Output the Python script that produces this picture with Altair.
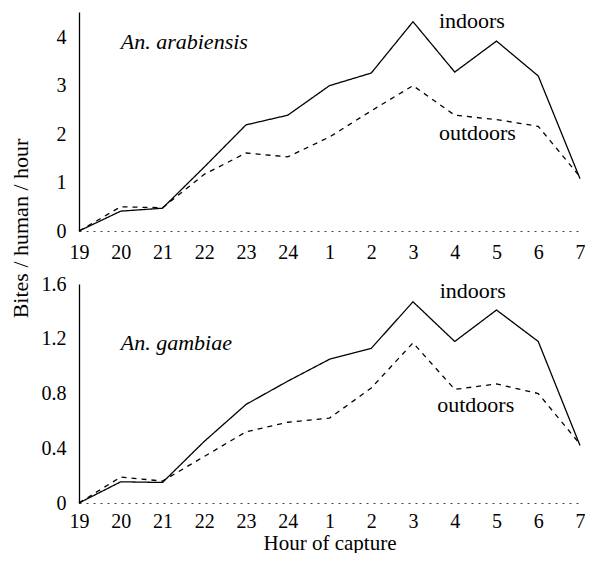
import altair as alt
import pandas as pd

hours = ["19", "20", "21", "22", "23", "24", "1", "2", "3", "4", "5", "6", "7"]

arab_indoors = [0, 0.41, 0.47, 1.32, 2.19, 2.39, 3.00, 3.26, 4.32, 3.28, 3.92, 3.20, 1.08]
arab_outdoors = [0, 0.50, 0.48, 1.17, 1.61, 1.53, 1.94, 2.48, 3.00, 2.39, 2.30, 2.16, 1.12]

gamb_indoors = [0, 0.155, 0.15, 0.45, 0.72, 0.89, 1.05, 1.13, 1.47, 1.18, 1.41, 1.18, 0.42]
gamb_outdoors = [0, 0.19, 0.16, 0.34, 0.52, 0.59, 0.62, 0.84, 1.17, 0.83, 0.87, 0.80, 0.43]

arab_ticks = [0, 1, 2, 3, 4]
gamb_ticks = [0, 0.4, 0.8, 1.2, 1.6]

# annotations: (text, x index, y value, italic)
arab_notes = [("An. arabiensis", 1.0, 3.75, True), ("indoors", 8.62, 4.19, False), ("outdoors", 8.62, 1.88, False)]
gamb_notes = [("An. gambiae", 1.0, 1.12, True), ("indoors", 8.64, 1.50, False), ("outdoors", 8.58, 0.665, False)]

FONT = "Liberation Serif, Times New Roman, DejaVu Serif, serif"
label_expr = "[" + ",".join("'%s'" % h for h in hours) + "][datum.value]"


def panel(ind, outd, ymax, yvals, notes, xtitle, ytitle, lab_pad):
    n = len(hours)
    df = pd.DataFrame({
        "idx": list(range(n)) * 2,
        "value": ind + outd,
        "loc": ["indoors"] * n + ["outdoors"] * n,
    })
    xaxis_kw = dict(values=list(range(n)), labelExpr=label_expr, grid=False, tickSize=0,
                    labelPadding=lab_pad, labelFlush=False, labelOverlap=False,
                    domainDash=[2, 5], domainColor="#444444", titlePadding=1)
    yaxis_kw = dict(values=yvals, format=".1~f", grid=False, tickSize=0, labelPadding=13,
                    labelFlush=False, labelOverlap=False, domainColor="black", domainWidth=1.3)
    xaxis_kw["title"] = xtitle if xtitle else None
    if ytitle:
        yaxis_kw.update(title=ytitle, titleX=-52, titleY=216, titleAlign="center",
                        titleBaseline="alphabetic", titleAngle=270, titleFontSize=22)
    else:
        yaxis_kw["title"] = None

    x = alt.X("idx:Q", scale=alt.Scale(domain=[0, n - 1], nice=False, zero=False), axis=alt.Axis(**xaxis_kw))
    y = alt.Y("value:Q", scale=alt.Scale(domain=[0, ymax], nice=False), axis=alt.Axis(**yaxis_kw))

    lines = alt.Chart(df).mark_line(color="black", strokeWidth=1.3).encode(
        x=x, y=y,
        strokeDash=alt.StrokeDash("loc:N", scale=alt.Scale(domain=["indoors", "outdoors"], range=[[1, 0], [5, 5]]), legend=None),
    )
    layers = [lines]
    ndf = pd.DataFrame({"label": [t[0] for t in notes], "idx": [t[1] for t in notes],
                        "value": [t[2] for t in notes], "italic": [t[3] for t in notes]})
    for italic in [True, False]:
        sub = ndf[ndf["italic"] == italic]
        layers.append(alt.Chart(sub).mark_text(align="left", baseline="alphabetic", font=FONT,
                                               fontSize=22, fontStyle="italic" if italic else "normal",
                                               color="black").encode(
            x=alt.X("idx:Q"), y=alt.Y("value:Q"), text="label:N"))
    return alt.layer(*layers).properties(width=501, height=219)


top = panel(arab_indoors, arab_outdoors, 4.52, arab_ticks, arab_notes, None, "Bites / human / hour", 11)
bottom = panel(gamb_indoors, gamb_outdoors, 1.6, gamb_ticks, gamb_notes, "Hour of capture", None, 8)

chart = alt.vconcat(top, bottom, spacing=53, bounds="flush").properties(
    padding={"left": 1, "top": 1, "right": 0, "bottom": 0}
).configure_view(stroke=None).configure_axis(
    labelFont=FONT, labelFontSize=20, labelColor="black",
    titleFont=FONT, titleFontSize=21, titleFontWeight="normal", titleColor="black",
)

chart.save("out.html", embed_options={"renderer": "svg", "actions": False})
